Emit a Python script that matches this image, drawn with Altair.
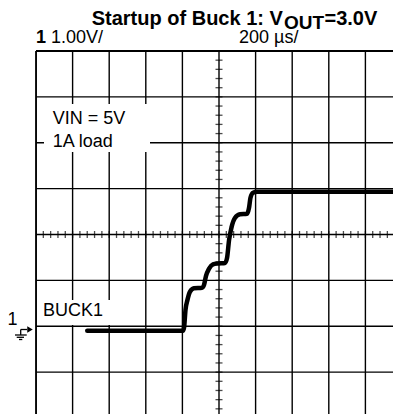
import altair as alt
import pandas as pd
import numpy as np

# ---- data read from the scope capture (time in µs, voltage in V) ----
trace_t = [280, 803, 809, 817, 828, 841, 863, 907, 918, 929, 945, 967, 994, 1033,
           1044, 1055, 1068, 1087, 1115, 1153, 1164, 1172, 1186, 1208, 2000]
trace_v = [0.0, 0.0, 0.07, 0.46, 0.68, 0.85, 0.93, 0.94, 1.0, 1.2, 1.35, 1.45, 1.47, 1.48,
           1.59, 1.98, 2.25, 2.46, 2.54, 2.55, 2.68, 2.9, 3.01, 3.03, 3.03]

x_grid = [0, 200, 400, 600, 800, 1000, 1200, 1400, 1600, 1800, 2000]
y_grid = [-1.9, -0.9, 0.1, 1.1, 2.1, 3.1, 4.1, 5.1, 6.1]

FONT = "Liberation Sans"
PX_PER_DIV = 36.6
W = 357                      # visible plot width (page is 401 px wide)
H = 367
X_MAX = 200 * W / PX_PER_DIV  # time shown at the right edge of the window

x_sc = alt.Scale(domain=[0, X_MAX], nice=False, zero=False)
y_sc = alt.Scale(domain=[-1.9, 6.1], nice=False, zero=False)

X = lambda f: alt.X(f, scale=x_sc, axis=None)
Y = lambda f: alt.Y(f, scale=y_sc, axis=None)

# graticule
vgrid = alt.Chart(pd.DataFrame({"t": x_grid})).mark_rule(color="black", strokeWidth=1.4, clip=True).encode(
    x=X("t:Q"), y=alt.value(0), y2=alt.value(H))
hgrid = alt.Chart(pd.DataFrame({"v": y_grid})).mark_rule(color="black", strokeWidth=1.4, clip=True).encode(
    y=Y("v:Q"), x=alt.value(0), x2=alt.value(W))
border = alt.Chart(pd.DataFrame({"a": [0]})).mark_rule(color="black", strokeWidth=1.8).encode(
    x=alt.value(0), x2=alt.value(0), y=alt.value(0), y2=alt.value(H))
border_top = alt.Chart(pd.DataFrame({"a": [0]})).mark_rule(color="black", strokeWidth=1.8).encode(
    x=alt.value(0), x2=alt.value(W), y=alt.value(0), y2=alt.value(0))

trace = alt.Chart(pd.DataFrame({"t": trace_t, "v": trace_v})).mark_line(
    color="black", strokeWidth=4.5, interpolate="monotone",
    strokeCap="round", strokeJoin="round", clip=True
).encode(x=X("t:Q"), y=Y("v:Q"))

# minor ticks on the centre graticule lines
xt = pd.DataFrame({"t": np.arange(0, 2001, 40), "v": 2.1})
xticks = alt.Chart(xt).mark_tick(orient="vertical", size=7, thickness=1.3, color="black", clip=True).encode(
    x=X("t:Q"), y=Y("v:Q"))
yt = pd.DataFrame({"v": np.round(np.arange(-1.9, 6.11, 0.2), 3), "t": 1000})
yticks = alt.Chart(yt).mark_tick(orient="horizontal", size=7, thickness=1.3, color="black").encode(
    x=X("t:Q"), y=Y("v:Q"))

one = pd.DataFrame({"a": [0]})


def box(x1, x2, y1, y2):
    return alt.Chart(one).mark_rect(color="white").encode(
        x=alt.value(x1), x2=alt.value(x2), y=alt.value(y1), y2=alt.value(y2))


def seg(x1, x2, y1, y2, w=1.3):
    return alt.Chart(one).mark_rule(color="black", strokeWidth=w).encode(
        x=alt.value(x1), x2=alt.value(x2), y=alt.value(y1), y2=alt.value(y2))


def label(txt, x, y, size=18, bold=False, align="left"):
    return alt.Chart(pd.DataFrame({"s": [txt]})).mark_text(
        font=FONT, fontSize=size, fontWeight="bold" if bold else "normal",
        align=align, baseline="alphabetic", color="black"
    ).encode(text="s:N", x=alt.value(x), y=alt.value(y))


layers = [
    vgrid, hgrid,
    box(8, 114, 53, 101),
    box(2, 76, 249, 274),
    xticks, yticks,
    border, border_top,
    # ground marker
    seg(-15.3, -15.3, 278.5, 284),
    seg(-15.3, -9, 278.5, 278.5),
    seg(-21, -9.3, 284, 284),
    seg(-19.3, -12, 286.3, 286.3),
    seg(-17, -13.7, 288.5, 288.5),
    alt.Chart(one).mark_point(shape="triangle-right", filled=True, color="black", size=40, opacity=1).encode(
        x=alt.value(-6), y=alt.value(278.5)),
    label("1", -23.5, 274, align="center"),
    # header texts
    label("Startup of Buck 1: V", 55.7, -26, size=20, bold=True),
    label("OUT", 248, -22, size=19, bold=True),
    label("=3.0V", 288.5, -26, size=20, bold=True),
    label("1", 0, -8, bold=True),
    label("1.00V/", 15, -8),
    label("200 µs/", 203, -8),
    # annotations
    label("VIN = 5V", 16.7, 72.5),
    label("1A load", 16.7, 95.7),
    label("BUCK1", 7, 265),
    trace,
]

chart = alt.layer(*layers).properties(
    width=W, height=H,
    padding={"left": 28, "top": 43, "right": 0, "bottom": 0},
    autosize=alt.AutoSizeParams(type="none"),
).configure_view(stroke=None).configure(background="white")

chart.save("out.html", embed_options={"renderer": "svg", "actions": False})
